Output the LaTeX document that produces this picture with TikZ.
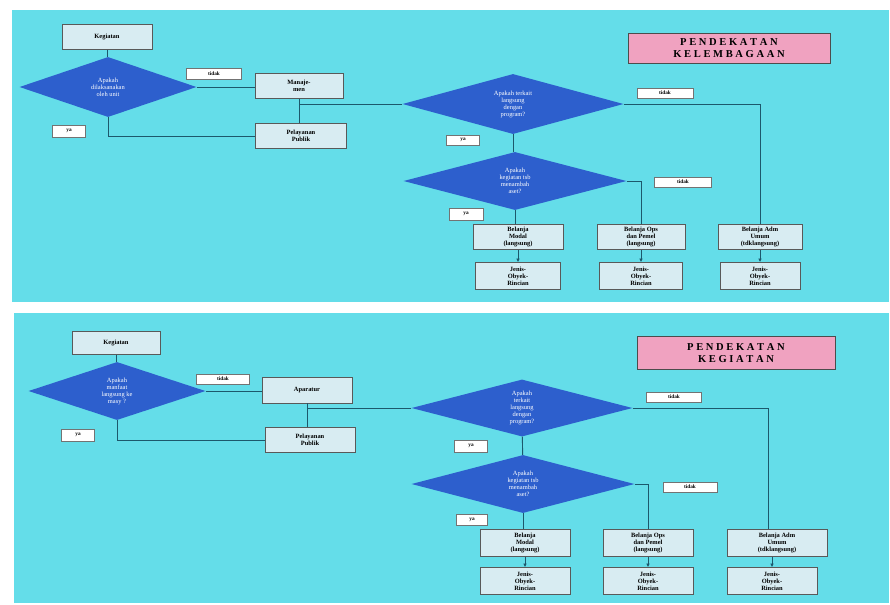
\documentclass[tikz,border=0pt]{standalone}
\usepackage{fontspec}
\setmainfont{Liberation Serif}
\usepackage{tikz}
\usetikzlibrary{arrows.meta,shapes.geometric}

\definecolor{panelcyan}{RGB}{100,221,233}
\definecolor{tanyablue}{RGB}{45,95,205}
\definecolor{boxfill}{RGB}{216,236,242}
\definecolor{judulpink}{RGB}{240,162,192}
\definecolor{garis}{RGB}{28,88,108}

\begin{document}
\begin{tikzpicture}[x=0.03cm,y=-0.03cm,>={Latex[length=3pt,width=3pt]},
ukuran/.style 2 args={minimum width=#1*0.03cm,minimum height=#2*0.03cm},
kotak/.style={draw=black!65,line width=0.7pt,fill=boxfill,align=center,inner sep=0pt,
  font=\fontsize{5.5}{6}\selectfont\bfseries},
tanya/.style={diamond,aspect=3,fill=tanyablue,text=white,align=center,inner sep=0pt,
  font=\fontsize{5.5}{6}\selectfont},
label/.style={draw=black!55,line width=0.6pt,fill=white,inner sep=0pt,
  font=\fontsize{4.5}{5}\selectfont\bfseries},
judul/.style={draw=black!70,line width=0.7pt,fill=judulpink,align=center,inner sep=0pt,
  font=\fontsize{9}{10.5}\selectfont\bfseries},
garisan/.style={draw=garis,line width=0.8pt}]
\useasboundingbox (0,0) rectangle (890,604);
\fill[white] (0,0) rectangle (890,604);
\fill[panelcyan] (12,10) rectangle (889,302);
\fill[panelcyan] (14,313) rectangle (889,603);

% pendekatan kelembagaan
\node[judul,ukuran={202}{30}] (judul1) at (729,48) {P E N D E K A T A N\\K E L E M B A G A A N};
\node[kotak,ukuran={90}{25}] (keg1) at (107,37) {Kegiatan};
\node[tanya,ukuran={177}{60}] (tanya1a) at (108,87) {Apakah\\dilaksanakan\\oleh unit};
\node[label,ukuran={55}{11}] (tdk1a) at (214,74) {tidak};
\node[label,ukuran={33}{12}] (ya1a) at (69,131) {ya};
\node[kotak,ukuran={88}{25}] (manaj) at (299,86) {Manaje-\\men};
\node[kotak,ukuran={91}{25}] (pelay1) at (301,136) {Pelayanan\\Publik};
\node[tanya,ukuran={221}{60}] (tanya1b) at (513,104) {Apakah terkait\\langsung\\dengan\\program?};
\node[label,ukuran={56}{10}] (tdk1b) at (665,93) {tidak};
\node[label,ukuran={33}{10}] (ya1b) at (463,140) {ya};
\node[tanya,ukuran={223}{58}] (tanya1c) at (515,181) {Apakah\\kegiatan tsb\\menambah\\aset?};
\node[label,ukuran={57}{10}] (tdk1c) at (683,182) {tidak};
\node[label,ukuran={34}{12}] (ya1c) at (466,214) {ya};
\node[kotak,ukuran={90}{25}] (modal1) at (518,237) {Belanja\\Modal\\(langsung)};
\node[kotak,ukuran={88}{25}] (ops1) at (641,237) {Belanja Ops\\dan Pemel\\(langsung)};
\node[kotak,ukuran={84}{25}] (adm1) at (760,237) {Belanja Adm\\Umum\\(tdklangsung)};
\node[kotak,ukuran={85}{27}] (jenis1a) at (518,276) {Jenis-\\Obyek-\\Rincian};
\node[kotak,ukuran={83}{27}] (jenis1b) at (641,276) {Jenis-\\Obyek-\\Rincian};
\node[kotak,ukuran={80}{27}] (jenis1c) at (760,276) {Jenis-\\Obyek-\\Rincian};

\draw[garisan] (keg1.south) -- (keg1.south |- tanya1a.north);
\draw[garisan] (tanya1a.east) -- (tanya1a.east -| manaj.west);
\draw[garisan] (tanya1a.south) |- (pelay1.west);
\draw[garisan] (manaj.south) -- (manaj.south |- pelay1.north);
\draw[garisan] (tanya1b.west) -- (tanya1b.west -| manaj.south);
\draw[garisan] (tanya1b.south) -- (tanya1b.south |- tanya1c.north);
\draw[garisan] (tanya1b.east) -| (adm1.north);
\draw[garisan] (tanya1c.south) -- (tanya1c.south |- modal1.north);
\draw[garisan] (tanya1c.east) -| (ops1.north);
\draw[garisan,->] (modal1) -- (jenis1a);
\draw[garisan,->] (ops1) -- (jenis1b);
\draw[garisan,->] (adm1) -- (jenis1c);

% pendekatan kegiatan
\node[judul,ukuran={198}{33}] (judul2) at (736,353) {P E N D E K A T A N\\K E G I A T A N};
\node[kotak,ukuran={88}{23}] (keg2) at (116,343) {Kegiatan};
\node[tanya,ukuran={177}{58}] (tanya2a) at (117,391) {Apakah\\manfaat\\langsung ke\\masy ?};
\node[label,ukuran={53}{10}] (tdk2a) at (223,379) {tidak};
\node[label,ukuran={33}{12}] (ya2a) at (78,435) {ya};
\node[kotak,ukuran={90}{26}] (apar) at (307,390) {Aparatur};
\node[kotak,ukuran={90}{25}] (pelay2) at (310,440) {Pelayanan\\Publik};
\node[tanya,ukuran={221}{57}] (tanya2b) at (522,408) {Apakah\\terkait\\langsung\\dengan\\program?};
\node[label,ukuran={55}{10}] (tdk2b) at (674,397) {tidak};
\node[label,ukuran={33}{12}] (ya2b) at (471,446) {ya};
\node[tanya,ukuran={223}{58}] (tanya2c) at (523,484) {Apakah\\kegiatan tsb\\menambah\\aset?};
\node[label,ukuran={54}{10}] (tdk2c) at (690,487) {tidak};
\node[label,ukuran={31}{11}] (ya2c) at (472,520) {ya};
\node[kotak,ukuran={90}{27}] (modal2) at (525,543) {Belanja\\Modal\\(langsung)};
\node[kotak,ukuran={90}{27}] (ops2) at (648,543) {Belanja Ops\\dan Pemel\\(langsung)};
\node[kotak,ukuran={100}{27}] (adm2) at (777,543) {Belanja Adm\\Umum\\(tdklangsung)};
\node[kotak,ukuran={90}{27}] (jenis2a) at (525,581) {Jenis-\\Obyek-\\Rincian};
\node[kotak,ukuran={90}{27}] (jenis2b) at (648,581) {Jenis-\\Obyek-\\Rincian};
\node[kotak,ukuran={90}{27}] (jenis2c) at (772,581) {Jenis-\\Obyek-\\Rincian};

\draw[garisan] (keg2.south) -- (keg2.south |- tanya2a.north);
\draw[garisan] (tanya2a.east) -- (tanya2a.east -| apar.west);
\draw[garisan] (tanya2a.south) |- (pelay2.west);
\draw[garisan] (apar.south) -- (apar.south |- pelay2.north);
\draw[garisan] (tanya2b.west) -- (tanya2b.west -| apar.south);
\draw[garisan] (tanya2b) -- (tanya2c);
\draw[garisan] (tanya2b.east) -| ([xshift=-9*0.03cm]adm2.north);
\draw[garisan] (tanya2c.south) -- (tanya2c.south |- modal2.north);
\draw[garisan] (tanya2c.east) -| (ops2.north);
\draw[garisan,->] (modal2) -- (jenis2a);
\draw[garisan,->] (ops2) -- (jenis2b);
\draw[garisan,->] (jenis2c.north |- adm2.south) -- (jenis2c);
\end{tikzpicture}
\end{document}
